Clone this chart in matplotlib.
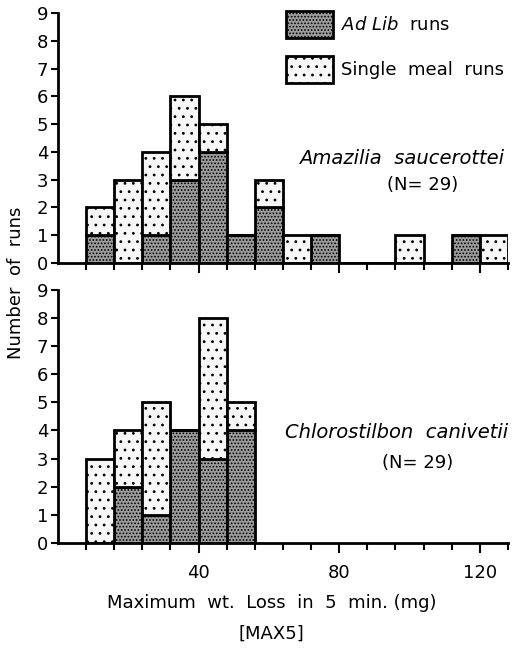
import matplotlib
matplotlib.use('Agg')
import matplotlib.pyplot as plt
from matplotlib.patches import Patch

plt.rcParams['font.family'] = ['DejaVu Sans']
plt.rcParams['mathtext.fontset'] = 'dejavusans'
plt.rcParams['hatch.linewidth'] = 0.8

# bins of 8 mg, left edges
bin_left = [8, 16, 24, 32, 40, 48, 56, 64, 72, 80, 88, 96, 104, 112, 120]

# Amazilia saucerottei
ama_adlib = [1, 0, 1, 3, 4, 1, 2, 0, 1, 0, 0, 0, 0, 1, 0]
ama_single = [1, 3, 3, 3, 1, 0, 1, 1, 0, 0, 0, 1, 0, 0, 1]

# Chlorostilbon canivetii
chl_left = [8, 16, 24, 32, 40, 48]
chl_adlib = [0, 2, 1, 4, 3, 4]
chl_single = [3, 2, 4, 0, 5, 1]

y_ticks = list(range(10))
x_major = [40, 80, 120]
x_minor = [8, 16, 24, 32, 48, 56, 64, 72, 88, 96, 104, 112, 128]

adlib_style = dict(facecolor='#9c9c9c', edgecolor='black', hatch='.....', linewidth=2)
single_style = dict(facecolor='#f7f7f7', edgecolor='black', hatch='..', linewidth=2)

fig = plt.figure(figsize=(5.22, 6.51), dpi=100)
ax1 = fig.add_axes([0.111, 0.596, 0.862, 0.384])
ax2 = fig.add_axes([0.111, 0.166, 0.862, 0.389])


def draw_panel(ax, left, adlib, single):
    ax.bar(left, adlib, width=8, align='edge', **adlib_style)
    ax.bar(left, single, width=8, bottom=adlib, align='edge', **single_style)
    ax.set_xlim(0, 128)
    ax.set_ylim(0, 9)
    ax.set_yticks(y_ticks)
    ax.set_xticks(x_major)
    ax.set_xticks(x_minor, minor=True)
    for s in ['top', 'right']:
        ax.spines[s].set_visible(False)
    for s in ['left', 'bottom']:
        ax.spines[s].set_linewidth(2)
    ax.tick_params(axis='y', length=5, width=1.5, labelsize=13, pad=2)
    ax.tick_params(axis='x', which='major', length=7, width=1.5, labelsize=13, pad=8)
    ax.tick_params(axis='x', which='minor', length=5, width=1.5)


draw_panel(ax1, bin_left, ama_adlib, ama_single)
draw_panel(ax2, chl_left, chl_adlib, chl_single)
ax1.tick_params(axis='x', labelbottom=False)

handles = [Patch(**adlib_style), Patch(**single_style)]
ax1.legend(handles, [r'$\mathit{Ad\ Lib}$  runs', 'Single  meal  runs'],
           loc='upper left', bbox_to_anchor=(0.47, 1.075), frameon=False,
           handlelength=2.6, handleheight=2.0, handletextpad=0.45,
           labelspacing=0.95, fontsize=13)

ax1.text(0.764, 0.42, 'Amazilia  saucerottei', transform=ax1.transAxes,
         ha='center', va='center', fontsize=14, style='italic')
ax1.text(0.81, 0.312, '(N= 29)', transform=ax1.transAxes,
         ha='center', va='center', fontsize=13)
ax2.text(0.753, 0.435, 'Chlorostilbon  canivetii', transform=ax2.transAxes,
         ha='center', va='center', fontsize=14, style='italic')
ax2.text(0.80, 0.316, '(N= 29)', transform=ax2.transAxes,
         ha='center', va='center', fontsize=13)

fig.text(0.03, 0.565, 'Number  of  runs', rotation=90, ha='center', va='center', fontsize=13)
fig.text(0.52, 0.073, 'Maximum  wt.  Loss  in  5  min. (mg)', ha='center', va='center', fontsize=13)
fig.text(0.52, 0.027, '[MAX5]', ha='center', va='center', fontsize=13)

fig.savefig('out.png', dpi=100)
